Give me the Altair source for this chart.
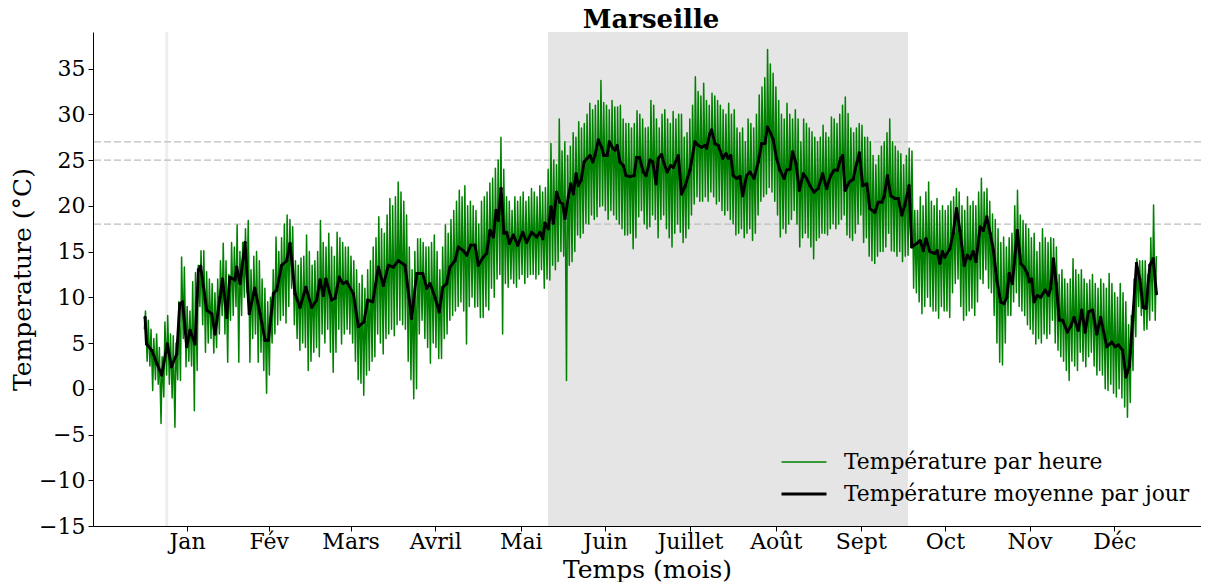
import altair as alt
import pandas as pd

# ---------------- data ----------------
title_text = "Marseille"
month_labels = ["Jan", "Fév", "Mars", "Avril", "Mai", "Juin", "Juillet",
                "Août", "Sept", "Oct", "Nov", "Déc"]
month_ticks = [15.6, 45.0, 74.5, 105.0, 135.8, 166.1, 196.7, 227.6,
               258.2, 288.5, 319.0, 349.5]
y_ticks = [-15, -10, -5, 0, 5, 10, 15, 20, 25, 30, 35]
ref_lines = [18, 25, 27]
shade_start, shade_end = 145.6, 275.2
marker_day = 8.3

# daily hourly extremes (hourly series shown as daily low -> high swing)
green_hi = [8.5, 7.5, 6.5, 5.5, 6.0, 4.5, 3.5, 7.3, 8.0, 6.0,
            5.8, 5.0, 9.5, 14.4, 13.3, 9.0, 8.5, 11.7, 12.7, 13.5,
            15.1, 15.1, 12.8, 12.0, 11.5, 10.5, 12.0, 14.0, 15.9, 14.0,
            12.5, 16.0, 15.5, 17.9, 15.0, 16.0, 17.5, 18.4, 13.0, 14.5,
            15.0, 14.0, 12.0, 11.0, 9.5, 10.0, 13.0, 16.6, 15.0, 16.5,
            18.0, 19.0, 18.5, 17.7, 14.0, 13.5, 14.3, 14.5, 16.8, 15.0,
            13.5, 14.0, 15.0, 18.4, 16.0, 15.5, 17.0, 15.5, 14.5, 17.1,
            16.5, 16.0, 15.5, 15.5, 14.5, 14.0, 13.0, 11.5, 12.4, 11.0,
            13.0, 14.0, 15.5, 16.5, 18.8, 17.5, 17.0, 19.0, 20.8, 20.0,
            21.0, 22.6, 21.5, 20.5, 19.0, 15.5, 13.0, 15.0, 16.4, 16.4,
            16.0, 15.5, 15.5, 16.0, 16.8, 15.0, 13.0, 15.5, 17.9, 17.0,
            18.5, 19.5, 20.5, 21.7, 21.0, 22.2, 20.0, 20.5, 20.0, 19.5,
            18.0, 20.5, 21.0, 21.5, 22.5, 23.0, 24.1, 25.0, 27.5, 24.0,
            21.0, 20.5, 19.5, 21.0, 20.5, 21.0, 21.5, 20.5, 21.0, 21.9,
            21.5, 21.0, 22.2, 21.5, 22.0, 24.0, 26.8, 25.0, 24.5, 29.5,
            26.0, 27.0, 25.5, 26.5, 28.0, 27.5, 29.2, 28.5, 29.0, 30.0,
            31.2, 30.5, 31.0, 31.5, 33.7, 31.3, 31.0, 30.5, 31.5, 30.8,
            30.8, 31.0, 29.5, 29.0, 29.0, 28.5, 29.0, 30.4, 30.0, 29.5,
            28.5, 28.6, 31.5, 31.0, 29.5, 28.5, 30.0, 30.5, 29.5, 29.0,
            30.3, 29.5, 30.0, 30.0, 27.5, 28.0, 29.5, 31.0, 34.1, 32.5,
            32.0, 33.4, 31.5, 31.0, 32.3, 32.0, 31.5, 31.0, 30.5, 30.0,
            31.2, 30.0, 30.5, 28.5, 28.0, 28.5, 27.0, 29.5, 29.0, 28.5,
            30.0, 32.1, 33.0, 34.0, 37.1, 35.5, 34.5, 33.0, 31.5, 30.0,
            29.5, 31.2, 30.0, 29.5, 30.5, 29.5, 27.0, 29.5, 29.0, 28.5,
            28.1, 27.5, 27.0, 27.5, 28.8, 28.0, 27.5, 29.7, 29.5, 29.0,
            30.0, 31.0, 31.9, 30.1, 28.5, 28.0, 28.5, 29.0, 28.8, 27.5,
            27.5, 27.0, 25.5, 24.5, 25.5, 26.5, 27.0, 28.0, 29.5, 27.0,
            26.5, 26.0, 25.7, 24.5, 25.5, 26.3, 26.0, 19.5, 19.5, 21.0,
            20.0, 21.5, 22.6, 20.5, 20.0, 20.8, 19.5, 20.0, 19.5, 20.0,
            20.5, 21.0, 21.9, 21.5, 20.0, 19.5, 21.0, 20.0, 20.5, 20.0,
            21.5, 23.0, 21.5, 21.9, 20.5, 19.1, 18.5, 17.5, 16.0, 16.6,
            15.5, 16.5, 17.0, 20.0, 21.7, 19.0, 18.4, 18.0, 17.5, 16.5,
            17.0, 15.0, 16.0, 17.5, 16.5, 16.0, 16.5, 16.4, 15.5, 12.5,
            13.0, 12.0, 11.5, 12.0, 14.2, 13.0, 12.5, 13.0, 12.0, 11.5,
            11.9, 12.5, 11.5, 11.0, 12.0, 11.5, 11.0, 12.6, 11.5, 10.5,
            10.0, 11.5, 10.5, 9.5, 7.0, 8.0, 12.0, 14.2, 14.0, 14.0,
            14.0, 12.5, 16.5, 20.1, 14.5]

green_lo = [6.5, 3.0, 2.5, -0.2, 1.0, 0.5, -3.8, -0.9, 1.5, 0.5,
            -1.0, -4.2, 1.0, 0.9, 5.5, 2.4, 3.0, 2.5, -2.4, 2.0,
            9.0, 7.0, 4.0, 5.0, 5.5, 3.9, 4.5, 6.0, 8.0, 6.0,
            2.9, 7.5, 8.0, 9.0, 2.9, 8.0, 10.0, 10.5, 2.9, 5.5,
            6.0, 2.9, 4.0, 2.0, -0.5, 1.5, 5.0, 6.0, 7.0, 7.5,
            8.0, 7.2, 9.0, 11.0, 7.0, 5.5, 4.2, 5.0, 4.5, 2.0,
            3.0, 4.0, 4.5, 3.5, 6.0, 5.0, 6.5, 4.0, 1.8, 4.0,
            6.5, 4.9, 6.0, 6.5, 6.0, 5.0, 3.0, 1.0, 0.6, -0.7,
            1.5, 2.0, 3.0, 3.5, 6.0, 5.0, 3.8, 5.5, 6.0, 6.5,
            5.8, 7.0, 7.5, 7.0, 6.5, 3.0, 1.0, -1.1, 0.0, 6.0,
            7.5, 5.5, 4.5, 2.8, 5.0, 4.5, 3.3, 3.3, 5.5, 6.0,
            7.5, 8.0, 8.5, 9.0, 9.5, 8.5, 4.9, 9.0, 10.0, 8.9,
            9.0, 7.8, 7.8, 9.0, 8.6, 11.0, 10.0, 12.0, 12.5, 6.0,
            11.5, 11.1, 12.0, 11.5, 11.1, 12.0, 12.5, 11.5, 12.2, 12.5,
            12.5, 12.0, 12.5, 13.0, 11.0, 12.0, 11.9, 13.5, 13.0, 13.9,
            15.0, 14.5, 0.9, 13.5, 13.9, 15.0, 16.8, 16.5, 17.0, 18.1,
            18.0, 19.0, 18.5, 18.8, 19.9, 20.0, 19.5, 18.5, 19.5, 19.0,
            18.5, 18.0, 17.5, 16.8, 16.8, 17.0, 15.3, 16.5, 18.8, 19.5,
            18.0, 17.5, 17.7, 19.0, 18.5, 16.5, 18.5, 19.0, 17.5, 16.5,
            15.5, 17.0, 18.0, 17.1, 16.0, 16.5, 17.5, 19.0, 20.2, 21.0,
            20.5, 20.5, 21.0, 20.5, 21.5, 21.0, 20.2, 20.5, 19.5, 19.0,
            19.5, 18.5, 18.0, 16.8, 17.0, 17.5, 16.5, 17.0, 17.5, 16.2,
            17.0, 19.0, 20.5, 21.0, 21.3, 22.0, 21.5, 20.5, 19.0, 16.6,
            17.5, 17.0, 18.0, 18.5, 19.5, 18.0, 15.5, 16.5, 17.0, 16.5,
            15.5, 14.2, 16.2, 16.5, 17.0, 17.0, 16.8, 17.5, 18.0, 17.5,
            18.0, 18.5, 19.0, 16.8, 16.5, 16.2, 17.0, 18.0, 19.0, 16.0,
            16.5, 14.5, 14.0, 13.7, 14.5, 15.0, 15.0, 15.5, 17.0, 15.1,
            15.0, 14.5, 15.0, 13.9, 14.5, 14.6, 15.5, 11.0, 10.5, 9.5,
            8.2, 9.0, 10.0, 9.0, 8.5, 8.5, 7.7, 9.0, 8.5, 8.5,
            7.8, 10.5, 11.5, 12.0, 9.0, 7.5, 8.0, 8.5, 8.8, 8.0,
            9.5, 12.0, 11.5, 13.0, 11.0, 10.5, 8.0, 5.0, 2.9, 2.6,
            5.0, 8.0, 8.0, 9.5, 10.5, 9.0, 8.5, 8.0, 7.0, 6.5,
            6.0, 4.9, 5.5, 5.0, 6.0, 5.5, 6.0, 7.5, 5.0, 4.2,
            3.5, 3.0, 2.0, 0.9, 3.0, 2.5, 2.0, 4.0, 3.0, 2.4,
            3.5, 4.0, 2.5, 1.5, 2.0, 1.5, 0.0, -0.2, 0.5, -0.5,
            -0.9, 0.0, -1.0, -2.0, -3.1, -1.5, 2.0, 5.7, 9.0, 8.0,
            6.4, 6.5, 7.5, 8.5, 7.5]

# daily mean (day position, value)
mean_day = [0.5, 1, 2.9, 4.7, 6.5, 8.5, 10, 11.9, 13, 14, 15.5, 16.7, 18.5, 19.7,
            20.5, 22.7, 24.5, 25.7, 27.5, 28.4, 29.9, 31, 32.9, 33.5, 34.7, 36.5,
            38, 40, 41.9, 43.7, 44.9, 46.7, 47.9, 49.7, 51.5, 52.7, 54.5, 56.3,
            58.4, 60.5, 62.3, 63.5, 64.7, 65.6, 67.7, 68.9, 70.4, 71.7, 73.1,
            75.5, 77.3, 79.3, 80.7, 82.5, 84.5, 86.3, 88.1, 89.9, 91.7, 94.1,
            96.5, 98.3, 100.5, 101.9, 103.1, 104.9, 106.4, 107.7, 109.1, 110.3,
            112.1, 113.3, 115.1, 116.3, 117.8, 119.3, 120.5,
            122.3, 123.5, 124.7, 125.9, 126.9, 127.7, 128.7, 129.7, 130.7, 131.7,
            133.1, 134.7, 136.5, 137.9, 139.7, 141.5, 142.7, 143.7, 144.5, 145.7,
            146.7, 147.5, 148.7, 149.9, 150.9, 151.7, 152.9, 153.8, 154.7, 155.7,
            156.5, 157.5, 158.6, 159.7, 160.7, 161.7, 162.5, 163.7, 164.9, 165.7,
            166.9, 167.7, 168.9, 169.7, 170.5, 171.5, 172.7, 173.7, 175.1, 176.6,
            177.5, 178.5,
            179.9, 180.9, 182.3, 183.3, 184.5, 185.3, 186.5, 187.4, 188.5, 189.8,
            190.7, 192.5, 193.7, 194.9, 196.7, 198.5, 199.7, 200.9, 202.1, 202.7,
            203.9, 204.5, 205.7, 206.9, 208.5, 209.7, 210.5, 211.4, 212.3, 213.5,
            214.7, 215.7, 217.1, 218.3, 219.8, 221.3, 222.5, 223.7, 224.6, 225.8,
            226.7, 227.9, 229.1, 230.6, 231.5, 232.7, 233.7, 234.9, 236.1, 237.5,
            238.7, 239.9,
            241.4, 242.9, 244.5, 245.9, 247.4, 248.6, 249.8, 251, 251.7, 252.6,
            254.1, 255.5, 256.7, 257.7, 258.9, 260.4, 261.5, 263.3, 264.5, 265.8,
            266.6, 267.8, 269, 270.5, 271.7, 273, 274.1, 275.6, 276.6, 278.4,
            279.6, 280.7, 281.7, 283.1, 284.9, 285.7, 286.7, 287.6, 288.5, 290.3,
            291.5, 292.7, 293.9, 295.5, 296.6, 297.6, 298.7, 299.7, 301.2, 302.3,
            303.6, 304.8,
            306, 307.2, 308.6, 309.8, 310.8, 311.7, 312.8, 314.6, 315.8, 317,
            318.2, 318.9, 319.8, 320.6, 321.8, 323, 324.6, 325.8, 326.6, 327.6,
            328.6, 329.7, 330.9, 332.6, 333.8, 335, 336.5, 337.8, 339, 340.2,
            341.7, 343.2, 344.6, 346.8, 348.6, 349.8, 351, 352.5, 353.7, 354.9,
            356.1, 357.5, 358.7, 359.9, 360.9, 362.3, 363.5, 364.7]
mean_val = [7.8, 4.9, 4.2, 2.8, 1.5, 4.9, 2.4, 3.8, 9.3, 9.5, 4.6, 6.4, 4.9, 13.0,
            13.4, 8.6, 8.2, 6.0, 10.0, 12.0, 7.8, 12.2, 11.9, 13.3, 11.5, 16.0,
            8.2, 11.0, 8.2, 5.3, 5.3, 10.4, 10.8, 13.5, 14.0, 15.9, 10.4, 8.9,
            11.1, 8.9, 9.7, 11.9, 10.2, 12.0, 9.7, 9.9, 12.2, 11.5, 11.7,
            10.4, 6.8, 7.3, 9.7, 9.5, 13.3, 11.3, 13.5, 13.3, 14.0, 13.5,
            7.7, 12.6, 12.6, 11.0, 11.5, 10.0, 8.4, 11.1, 11.5, 13.3,
            14.0, 15.5, 15.1, 14.6, 15.7, 15.7, 13.5,
            14.4, 14.8, 17.3, 16.6, 19.5, 18.4, 21.9, 17.0, 17.1, 15.9,
            16.8, 15.7, 17.1, 16.0, 17.1, 16.6, 17.1, 16.4, 18.1, 17.5,
            19.9, 18.1, 21.5, 20.4, 20.2, 18.6, 21.0, 22.4, 21.3, 23.5,
            22.2, 22.8, 24.8, 25.2, 25.5, 24.8, 25.5, 27.2, 26.4, 25.5,
            25.5, 27.0, 26.3, 26.1, 26.6, 24.8, 24.4, 23.3, 23.2, 23.3,
            25.3, 25.3,
            23.7, 23.3, 25.0, 24.8, 22.4, 25.2, 25.6, 24.6, 23.7, 24.4,
            24.2, 25.5, 21.3, 22.1, 23.9, 27.0, 26.6, 26.4, 26.6, 26.3,
            27.9, 28.3, 26.8, 26.6, 25.2, 25.7, 25.2, 25.5, 23.3, 23.0,
            23.2, 21.1, 23.3, 23.7, 23.0, 24.8, 26.8, 26.8, 28.6, 27.9,
            27.2, 25.2, 23.9, 23.0, 23.9, 24.0, 25.9, 24.6, 21.7, 23.5,
            23.0, 22.2,
            21.5, 21.9, 23.5, 21.9, 23.3, 23.9, 23.9, 25.2, 25.5, 21.7,
            22.6, 22.9, 24.6, 25.8, 22.2, 22.4, 19.7, 19.3, 20.4, 20.4,
            21.0, 23.3, 21.1, 20.8, 20.8, 19.0, 20.1, 22.2, 15.5, 15.9,
            16.2, 15.1, 16.4, 15.0, 14.8, 15.1, 13.7, 15.0, 14.4, 15.3,
            17.0, 19.7, 17.3, 13.5, 14.6, 14.2, 15.0, 13.9, 17.7, 17.3,
            18.8, 17.0,
            15.1, 11.9, 9.5, 9.3, 10.0, 12.6, 11.5, 17.3, 13.7, 13.3,
            12.6, 11.7, 12.0, 9.5, 10.2, 10.0, 10.8, 10.2, 11.0, 14.2,
            11.5, 7.5, 7.5, 6.2, 6.8, 7.8, 6.4, 8.6, 6.2, 8.4,
            8.6, 6.0, 7.8, 4.6, 5.1, 4.6, 4.8, 4.2, 1.3, 2.4,
            7.5, 13.7, 12.0, 8.9, 8.8, 13.5, 14.2, 10.4]

SERIES = ["Température par heure", "Température moyenne par jour"]

# ---------------- tables ----------------
hourly_rows = []
for d in range(len(green_hi)):
    hourly_rows.append({"day": d + 0.25, "temp": green_lo[d], "serie": SERIES[0]})
    hourly_rows.append({"day": d + 0.65, "temp": green_hi[d], "serie": SERIES[0]})
hourly = pd.DataFrame(hourly_rows)
daily = pd.DataFrame({"day": mean_day, "temp": mean_val, "serie": SERIES[1]})
shade = pd.DataFrame({"x0": [shade_start], "x1": [shade_end]})
hlines = pd.DataFrame({"y": ref_lines})
vline = pd.DataFrame({"x": [marker_day]})
title_df = pd.DataFrame({"t": [title_text]})

FONT = "DejaVu Serif"
W, H = 1108, 494

label_expr = ("[" + ",".join("'%s'" % m for m in month_labels) + "][indexof(["
              + ",".join(str(v) for v in month_ticks) + "], datum.value)]")

xscale = alt.Scale(domain=[-18.25, 380.73], nice=False, zero=False)
yscale = alt.Scale(domain=[-15, 39.0], nice=False, zero=False)

xaxis = alt.Axis(values=month_ticks, labelExpr=label_expr, grid=False,
                 tickSize=5, labelPadding=0, titlePadding=5, labelAngle=0,
                 labelFontSize=22, titleFontSize=25, labelFont=FONT, titleFont=FONT,
                 titleFontWeight="normal", labelColor="black", titleColor="black",
                 domainColor="black", tickColor="black", labelOverlap=False,
                 labelFlush=False)
yaxis = alt.Axis(values=y_ticks, grid=False, tickSize=5, labelPadding=3,
                 titlePadding=3, labelFontSize=22, titleFontSize=25,
                 labelFont=FONT, titleFont=FONT, titleFontWeight="normal",
                 labelColor="black", titleColor="black", domainColor="black",
                 tickColor="black", labelOverlap=False, labelFlush=False)

XT = "Temps (mois)"
YT = "Temperature (°C)"

legend = alt.Legend(title=None, orient="none", legendX=698, legendY=418,
                    symbolType="M-2,0H2", symbolSize=506, labelFont=FONT,
                    labelFontSize=21.8, labelColor="black", labelOffset=27,
                    rowPadding=7, padding=0, labelLimit=500)
color = alt.Color("serie:N", scale=alt.Scale(domain=SERIES, range=["green", "black"]),
                  legend=legend)
swidth = alt.StrokeWidth("serie:N", scale=alt.Scale(domain=SERIES, range=[1.5, 2.9]),
                         legend=legend)

shade_layer = alt.Chart(shade).mark_rect(color="#e5e5e5").encode(
    x=alt.X("x0:Q", scale=xscale, axis=xaxis, title=XT),
    x2="x1:Q",
    y=alt.value(0), y2=alt.value(H))

vline_layer = alt.Chart(vline).mark_rule(color="#eeeeee", strokeWidth=3).encode(
    x=alt.X("x:Q", scale=xscale, axis=xaxis, title=XT))

hline_layer = alt.Chart(hlines).mark_rule(color="#bdbdbd", strokeWidth=1.2,
                                          strokeDash=[7, 3]).encode(
    y=alt.Y("y:Q", scale=yscale, axis=yaxis, title=YT))

hourly_layer = alt.Chart(hourly).mark_line(strokeJoin="round").encode(
    x=alt.X("day:Q", scale=xscale, axis=xaxis, title=XT),
    y=alt.Y("temp:Q", scale=yscale, axis=yaxis, title=YT),
    color=color, strokeWidth=swidth)

daily_layer = alt.Chart(daily).mark_line(strokeJoin="round").encode(
    x=alt.X("day:Q", scale=xscale, axis=xaxis, title=XT),
    y=alt.Y("temp:Q", scale=yscale, axis=yaxis, title=YT),
    color=color, strokeWidth=swidth)

daily_pts = alt.Chart(daily).mark_point(filled=True, size=10, color="black",
                                        opacity=1).encode(
    x=alt.X("day:Q", scale=xscale, axis=xaxis, title=XT),
    y=alt.Y("temp:Q", scale=yscale, axis=yaxis, title=YT))

title_layer = alt.Chart(title_df).mark_text(
    font=FONT, fontSize=26, fontWeight="bold", color="black",
    align="center", baseline="alphabetic").encode(
    text="t:N", x=alt.value(558), y=alt.value(-4.5))

chart = alt.layer(shade_layer, vline_layer, hline_layer, hourly_layer,
                  daily_layer, daily_pts, title_layer).properties(
    width=W, height=H,
    padding={"left": 85, "top": 24, "right": 0, "bottom": 56},
    autosize=alt.AutoSizeParams(type="none"),
    background="white",
).configure_view(strokeWidth=0)

chart.save("out.html", embed_options={"renderer": "svg", "actions": False})
